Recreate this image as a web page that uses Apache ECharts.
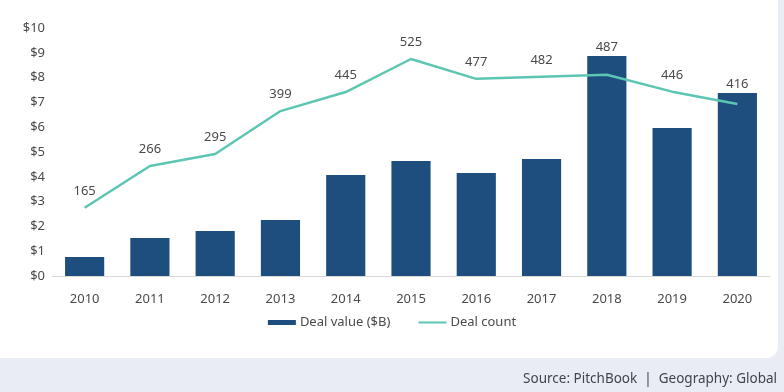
<!DOCTYPE html>
<html>
<head>
<meta charset="utf-8">
<script src="https://cdn.jsdelivr.net/npm/echarts@6/dist/echarts.min.js"></script>
<style>
  html, body { margin: 0; padding: 0; width: 784px; height: 392px; background: #e9edf3; overflow: hidden; }
  #card { position: absolute; left: -14px; top: -14px; width: 792px; height: 372px; background: #ffffff; border-radius: 12px; }
  #chart { position: absolute; left: 0; top: 0; width: 784px; height: 392px; }
</style>
</head>
<body>
<div id="card"></div>
<div id="chart"></div>
<script>
const years = ['2010','2011','2012','2013','2014','2015','2016','2017','2018','2019','2020'];
const dealValue = [0.77, 1.53, 1.81, 2.26, 4.07, 4.64, 4.15, 4.72, 8.87, 5.97, 7.38];
const dealCount = [165, 266, 295, 399, 445, 525, 477, 482, 487, 446, 416];
const valueTicks = [0, 10, 1];
const countAxis = [0, 600];

const font = '"Noto Sans", "Open Sans", sans-serif';
const chart = echarts.init(document.getElementById('chart'), null, { renderer: 'canvas' });

const option = {
  backgroundColor: 'transparent',
  animation: false,
  textStyle: { fontFamily: font },
  grid: { left: 52, right: 14, top: 28, bottom: 116 },
  legend: {
    bottom: 58,
    left: 'center',
    itemGap: 28,
    itemWidth: 28,
    itemHeight: 5,
    textStyle: { color: '#4a4a4a', fontSize: 13, fontFamily: font, padding: [0, 0, 0, -1] },
    data: [
      { name: 'Deal value ($B)', icon: 'rect' },
      { name: 'Deal count', icon: 'path://M0,0H28V2H0Z' }
    ]
  },
  xAxis: {
    type: 'category',
    data: years,
    axisLine: { lineStyle: { color: '#d9d9d9', width: 1 } },
    axisTick: { show: false },
    axisLabel: { color: '#4a4a4a', fontSize: 13, margin: 17, fontFamily: font }
  },
  yAxis: [
    {
      type: 'value',
      min: valueTicks[0], max: valueTicks[1], interval: valueTicks[2],
      splitLine: { show: false },
      axisLine: { show: false },
      axisTick: { show: false },
      axisLabel: { color: '#4a4a4a', fontSize: 13, margin: 7, fontFamily: font, formatter: v => '$' + v }
    },
    {
      type: 'value',
      min: countAxis[0], max: countAxis[1],
      show: false,
      splitLine: { show: false }
    }
  ],
  series: [
    {
      name: 'Deal value ($B)',
      type: 'bar',
      data: dealValue,
      barWidth: '60%',
      itemStyle: { color: '#1d4e7e' },
      z: 2
    },
    {
      name: 'Deal count',
      type: 'line',
      yAxisIndex: 1,
      data: dealCount,
      symbol: 'circle',
      symbolSize: 0.01,
      showSymbol: true,
      lineStyle: { color: '#5cc6b2', width: 2.5 },
      itemStyle: { color: '#5cc6b2' },
      label: {
        show: true,
        position: 'top',
        distance: 10,
        color: '#4a4a4a',
        fontSize: 13,
        fontFamily: font
      },
      z: 3
    }
  ],
  graphic: [
    {
      type: 'text',
      right: 7,
      top: 372,
      style: {
        text: 'Source: PitchBook  |  Geography: Global',
        fill: '#3f4450',
        font: '13.5px ' + font
      }
    }
  ]
};
chart.setOption(option);

// Place count labels above the taller of bar top and line point
const labelled = dealCount.map((c, i) => {
  const barTop = chart.convertToPixel({ seriesIndex: 0 }, [i, dealValue[i]])[1];
  const pt = chart.convertToPixel({ seriesIndex: 1 }, [i, c])[1];
  const labelY = Math.min(pt - 17, barTop - 9);
  return { value: c, label: { offset: [0, labelY - (pt - 17)] } };
});
chart.setOption({ series: [{}, { data: labelled }] });
</script>
</body>
</html>
